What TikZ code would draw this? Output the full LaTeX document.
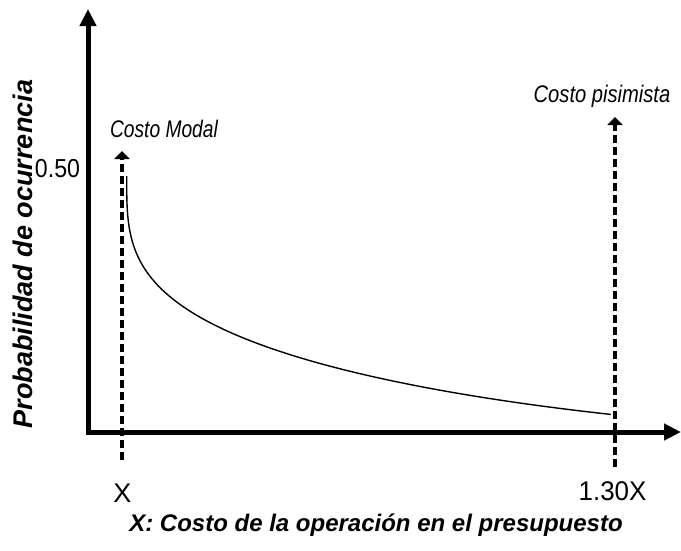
\documentclass[tikz,border=0pt]{standalone}
\usepackage{fontspec}
\setmainfont{Liberation Sans}
\usetikzlibrary{arrows.meta}
\tikzset{
  axisline/.style={line width=5pt, {Triangle[length=17pt,width=16pt]}-{Triangle[length=17pt,width=16pt]}},
  dashline/.style={line width=3.5pt, dash pattern=on 8pt off 4pt, -{Triangle[length=8pt,width=15pt]}},
  curveline/.style={line width=1.4pt},
  lbl/.style={inner sep=0pt, anchor=base, font=\fontsize{24}{28}\selectfont\itshape},
  tick/.style={inner sep=0pt, anchor=base, font=\fontsize{27}{32}\selectfont},
  axtitle/.style={inner sep=0pt, anchor=base, font=\bfseries\itshape}
}
\begin{document}
\begin{tikzpicture}[x=1pt,y=-1pt]
\useasboundingbox (0,0) rectangle (681,550);
% axes
\coordinate (O) at (88,432);
\coordinate (ytop) at (88,9);
\coordinate (xend) at (681,432);
\draw[axisline] (ytop) -- (O) -- (xend);
% dashed markers
\coordinate (mb) at (122,460);
\coordinate (mt) at (122,151);
\coordinate (pb) at (615,467);
\coordinate (pt) at (615,117);
\draw[dashline] (mb) -- (mt);
\draw[dashline] (pb) -- (pt);
% curve
\draw[curveline] plot[domain=0:7.853, samples=120]
  ({126.7+\x*\x*\x}, {176+39*(\x)^0.9-0.0000427*(\x*\x*\x)*(\x*\x*\x)});
% labels
\node[lbl] (cm) at (164,137) {\scalebox{0.8}[1]{Costo Modal}};
\node[lbl] (cp) at (602,102) {\scalebox{0.84}[1]{Costo pisimista}};
\node[tick] (v50) at (57.5,177) {\fontsize{26}{30}\selectfont\scalebox{0.89}[1]{0.50}};
\node[tick] (tx) at (122.5,502) {X};
\node[tick] (t130) at (612.5,500) {\scalebox{0.96}[1]{1.30X}};
\node[axtitle, font=\fontsize{24}{28}\selectfont\bfseries\itshape] (xt) at (376,531) {X: Costo de la operación en el presupuesto};
\node[axtitle, rotate=90, font=\fontsize{27}{32}\selectfont\bfseries\itshape] (yt) at (32,254) {Probabilidad de ocurrencia};
\end{tikzpicture}
\end{document}
